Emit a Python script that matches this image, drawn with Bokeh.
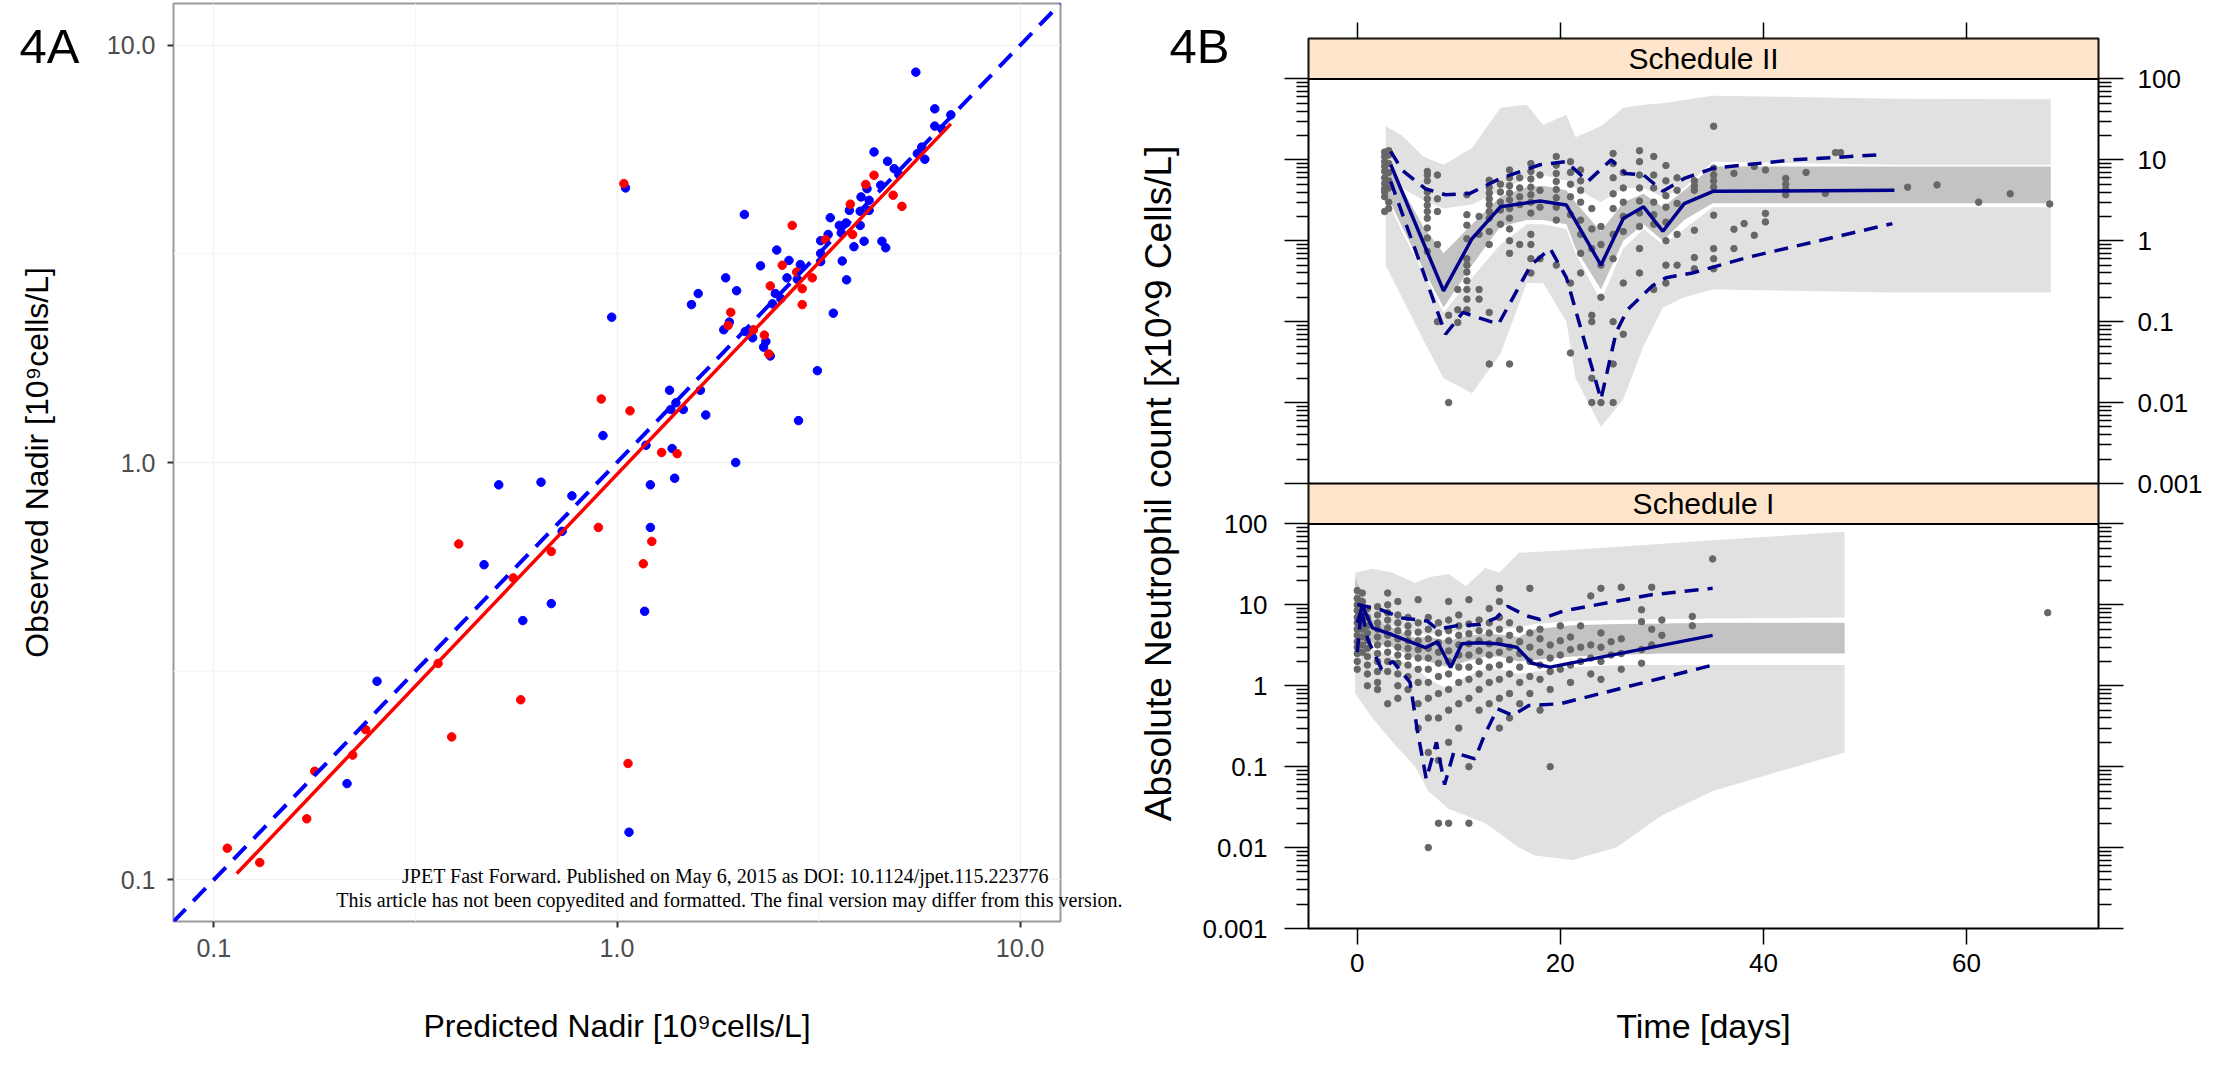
from bokeh.plotting import figure
from bokeh.models import (Range1d, LogAxis, LinearAxis, FixedTicker, LogScale, GridBox,
                          PrintfTickFormatter, CustomJSTickFormatter)
from bokeh.core.properties import value
from bokeh.embed import file_html
from bokeh.resources import INLINE

FONT = "Liberation Sans"

# ---------------- 4A : predicted vs observed nadir ----------------
blue_pred = [0.214, 0.254, 0.468, 0.584, 0.687, 1.171, 1.071, 0.509, 0.648, 0.773, 1.21, 1.39, 0.731, 1.21,
             1.05, 5.51, 6.14, 6.73, 6.14, 6.39, 4.34, 4.69, 4.87, 5.0, 5.56, 5.80, 5.7,
             4.51, 4.17, 4.03, 4.22, 3.77, 4.01, 4.22, 3.38, 3.56, 3.7, 4.01, 3.6, 3.34, 4.10, 3.87, 4.54, 4.64,
             3.2, 3.20, 3.20, 3.62, 3.71,
             2.49, 2.67, 2.85, 2.27, 2.07, 1.86, 1.98, 2.64, 2.8, 2.47, 2.55, 2.43, 1.59, 1.53, 1.84, 1.9, 2.08,
             2.17, 2.31, 2.34, 2.40, 3.44, 3.14, 2.82, 1.97, 0.97, 1.35, 1.61, 1.40, 1.46, 1.36, 1.66, 0.923,
             1.18, 1.37]
blue_obs = [0.170, 0.299, 0.569, 0.418, 0.459, 0.440, 0.130, 0.884, 0.897, 0.832, 0.884, 0.917, 0.684, 0.699,
            4.55, 8.62, 7.04, 6.81, 6.40, 6.30, 5.55, 5.27, 5.06, 4.9, 5.50, 5.33, 5.7,
            4.62, 4.53, 4.33, 4.25, 4.02, 4.00, 4.02, 3.86, 3.70, 3.75, 3.70, 3.55, 3.52, 3.39, 3.29, 3.39, 3.27,
            3.4, 3.17, 3.03, 3.04, 2.74,
            3.23, 3.05, 2.98, 2.96, 3.93, 2.77, 2.58, 2.77, 2.75, 2.54, 2.47, 2.40, 2.54, 2.39, 2.08, 2.17, 2.06,
            1.99, 1.89, 1.95, 1.80, 2.28, 1.66, 1.26, 1.0, 2.23, 1.49, 1.49, 1.39, 1.34, 1.34, 1.30, 1.16,
            1.10, 1.08]
red_pred = [0.108, 0.130, 0.170, 0.178, 0.221, 0.238, 0.360, 0.389, 0.553, 0.577, 0.687, 1.162, 1.065, 0.405,
            0.899, 1.22, 1.04, 2.72, 4.34, 4.14, 3.79, 4.84, 5.09, 3.84, 3.29, 2.57, 2.79, 3.05, 2.40, 2.88,
            2.88, 1.915, 1.886, 2.18, 2.32, 2.38, 0.914, 1.077, 1.29, 1.41]
red_obs = [0.119, 0.110, 0.140, 0.182, 0.199, 0.229, 0.330, 0.220, 0.529, 0.270, 0.612, 0.572, 0.190, 0.638,
           0.699, 0.647, 4.66, 3.70, 4.88, 4.64, 4.16, 4.37, 4.11, 3.52, 3.42, 2.97, 2.86, 2.77, 2.65, 2.61,
           2.39, 2.29, 2.13, 2.08, 2.02, 1.82, 1.42, 1.33, 1.057, 1.05]
identity_line = [0.05, 20.0]
fit_pred = [0.114, 6.73]
fit_obs = [0.1035, 6.48]
nadir_ticks = [0.1, 1, 10]
nadir_minor = [0.316, 3.16]
nadir_lim = (10 ** -1.1, 10 ** 1.1)

# ---------------- 4B : VPC, Schedule II (upper) ----------------
s2_band_day = [2.8, 4.4, 6.5, 8.5, 11.3, 14.1, 16.7, 18.3, 20.6, 21.5, 24.0, 26.2, 28.2, 30.1, 32.2, 35.0, 52.7, 68.3]
s2_up_hi = [26, 20, 11, 8.7, 14, 44, 48, 27, 36, 19, 26, 44, 48, 50, 55, 62, 57, 56]
s2_up_lo = [6.0, 4.5, 3.2, 2.5, 2.8, 4.2, 6.0, 6.5, 5.5, 4.5, 3.0, 4.5, 4.5, 3.5, 4.5, 9.5, 8.7, 8.7]
s2_md_hi = [9.0, 4.5, 1.5, 0.7, 1.6, 3.5, 4.6, 4.8, 4.2, 3.0, 1.3, 3.0, 3.8, 2.6, 4.2, 8.3, 8.3, 8.3]
s2_md_lo = [4.0, 1.5, 0.45, 0.15, 0.5, 1.5, 1.8, 1.8, 1.6, 0.8, 0.25, 1.0, 1.6, 1.0, 1.8, 2.9, 2.9, 2.9]
s2_lw_hi = [3.5, 1.3, 0.4, 0.13, 0.35, 0.9, 1.6, 1.6, 1.4, 0.7, 0.18, 0.8, 1.4, 0.9, 1.4, 2.6, 2.6, 2.6]
s2_lw_lo = [0.5, 0.2, 0.06, 0.02, 0.013, 0.04, 0.3, 0.3, 0.1, 0.02, 0.005, 0.011, 0.05, 0.15, 0.2, 0.25, 0.23, 0.23]

s2_med_day = [3.3, 8.5, 11.3, 14.1, 18.0, 20.6, 24.0, 26.2, 28.2, 30.1, 32.2, 35.1, 52.9]
s2_med_val = [8.7, 0.24, 1.06, 2.63, 3.1, 2.76, 0.50, 1.88, 2.63, 1.31, 2.88, 4.1, 4.2]
s2_hi_day = [3.3, 4.4, 6.7, 8.7, 11.1, 14.1, 18.0, 20.6, 22.7, 25.0, 26.4, 28.2, 30.1, 32.2, 35.1, 42.9, 51.7]
s2_hi_val = [12.7, 7.5, 4.4, 3.7, 3.85, 5.9, 8.7, 9.5, 5.4, 10.0, 6.8, 6.5, 4.1, 5.9, 7.9, 10.0, 11.6]
s2_lo_day = [3.3, 8.7, 10.4, 13.9, 17.1, 19.0, 20.6, 24.0, 25.5, 26.6, 29.1, 30.4, 33.0, 38.6, 52.7]
s2_lo_val = [5.4, 0.07, 0.13, 0.093, 0.5, 0.8, 0.35, 0.011, 0.074, 0.14, 0.28, 0.35, 0.40, 0.63, 1.63]

s2_obs_day = [2.7, 3.1, 6.9, 7.9, 9.0, 9.9, 10.8, 12.0, 13.0, 14.1, 15.0, 16.0, 17.1, 18.0, 19.6, 21.0, 22.0,
              23.1, 24.0, 25.2, 26.2, 27.8, 29.2, 30.4, 31.5, 33.2, 35.1, 37.1, 38.1, 39.1, 40.2, 42.2, 44.2,
              46.1, 47.1, 47.6, 54.2, 57.1, 61.2, 64.3, 68.2]
s2_obs_val = [
    [12.5, 11, 9.5, 8.3, 7.2, 6.0, 5.1, 4.4, 4.0, 3.5, 2.3],
    [13, 11.5, 9, 7, 5.5, 4.5, 3, 2.5],
    [7.2, 6.5, 5.5, 4.0, 3.3, 2.75, 2.3, 1.9, 1.44, 1.08, 0.74],
    [6.5, 3.3, 2.3, 0.9, 0.1],
    [0.12, 0.01],
    [0.14, 0.098, 0.25],
    [3.7, 2.1, 1.56, 1.06, 0.6, 0.5, 0.41, 0.32, 0.25, 0.19, 0.14],
    [2.0, 1.2, 0.25, 0.19],
    [5.6, 4.6, 3.9, 3.3, 2.8, 2.3, 1.9, 1.3, 0.9, 0.13, 0.03],
    [5.0, 4.0, 3.0, 2.4, 1.6],
    [7.5, 6.0, 4.8, 3.9, 3.2, 2.5, 1.9, 1.4, 1.0, 0.7, 0.03],
    [6.0, 4.5, 3.5, 2.8, 0.9],
    [9.0, 7.2, 5.8, 4.6, 3.7, 3.0, 2.2, 1.2, 0.9, 0.6, 0.4],
    [6.5, 4.2, 2.6, 0.6],
    [11.0, 8.6, 6.8, 5.4, 4.3, 3.4, 2.6, 1.8, 0.5],
    [9.5, 7.0, 5.0, 3.5, 2.1, 0.3, 0.041],
    [7.5, 5.5, 4.2, 3.0, 1.8, 1.2, 0.7, 0.4],
    [2.5, 1.4, 0.8, 0.12, 0.1, 0.02, 0.01],
    [1.5, 0.9, 0.5, 0.2, 0.01],
    [12.0, 9.0, 6.0, 3.8, 2.5, 1.2, 0.6, 0.1, 0.03, 0.01],
    [7.0, 4.5, 3.0, 2.0, 1.3, 0.3, 0.07],
    [13.0, 9.5, 6.5, 4.5, 3.1, 2.2, 1.5, 0.8, 0.4],
    [11.0, 6.5, 4.5, 3.0, 2.1, 1.6, 0.25],
    [8.5, 5.5, 3.6, 2.6, 1.7, 1.0, 0.5, 0.3],
    [6.0, 4.2, 2.9, 1.2, 0.5],
    [5.5, 4.8, 4.2, 1.35, 0.62, 0.45],
    [26, 7.9, 6.5, 5.5, 4.6, 2.07, 0.8, 0.6, 0.45],
    [6.8, 1.39, 0.8],
    [1.63],
    [8.3, 1.17],
    [7.5, 2.18, 1.71],
    [5.9, 5.0, 4.3, 3.7],
    [7.0],
    [3.85],
    [12.3],
    [12.3],
    [4.6],
    [4.9],
    [3.0],
    [3.8],
    [2.85],
]

# ---------------- 4B : VPC, Schedule I (lower) ----------------
s1_band_day = [-0.2, 1.5, 3.5, 5.7, 7.0, 9.0, 10.7, 12.6, 14.0, 15.9, 17.5, 21.2, 25.5, 30.0, 35.0, 48.0]
s1_up_hi = [25, 28, 25, 18.6, 22, 24, 17, 28.5, 25, 44, 45, 48, 52, 57, 63, 80]
s1_up_lo = [6.5, 6.0, 5.5, 4.6, 4.3, 4.8, 4.5, 4.9, 5.0, 5.3, 5.8, 6.3, 6.5, 6.7, 6.8, 7.0]
s1_md_hi = [22, 6.5, 5.2, 3.9, 4.0, 3.6, 4.1, 4.4, 4.3, 4.0, 5.0, 5.6, 5.8, 5.9, 6.0, 6.0]
s1_md_lo = [4.0, 3.4, 3.0, 2.2, 2.0, 1.7, 2.0, 2.3, 2.3, 2.0, 2.1, 2.3, 2.4, 2.5, 2.5, 2.5]
s1_lw_hi = [3.6, 2.8, 2.3, 1.7, 1.2, 0.9, 1.3, 1.6, 1.6, 1.4, 1.5, 1.7, 1.8, 1.8, 1.8, 1.8]
s1_lw_lo = [0.8, 0.4, 0.2, 0.1, 0.05, 0.03, 0.025, 0.02, 0.015, 0.01, 0.008, 0.007, 0.01, 0.025, 0.05, 0.15]

s1_med_day = [0.0, 0.5, 1.5, 3.4, 6.7, 7.9, 9.2, 10.3, 12.0, 13.8, 15.7, 17.2, 19.0, 35.0]
s1_med_val = [6.0, 9.6, 5.2, 4.3, 2.96, 3.5, 1.68, 3.3, 3.4, 3.3, 3.0, 1.9, 1.7, 4.2]
s1_hi_day = [0.0, 2.3, 4.4, 6.9, 7.9, 9.7, 12.1, 13.7, 14.8, 16.7, 18.0, 20.3, 25.5, 29.1, 35.0]
s1_hi_val = [10.1, 8.7, 6.9, 6.3, 5.0, 5.5, 5.7, 6.9, 9.6, 7.3, 6.6, 8.4, 11.1, 13.4, 16.0]
s1_lo_day = [0.0, 0.4, 1.05, 2.4, 3.5, 5.2, 5.9, 6.8, 7.8, 8.6, 9.5, 11.6, 12.5, 13.8, 15.3, 16.9, 20.0, 35.0]
s1_lo_val = [2.6, 8.7, 3.7, 1.6, 2.0, 1.1, 0.29, 0.07, 0.2, 0.06, 0.15, 0.125, 0.24, 0.52, 0.43, 0.57, 0.6, 1.8]

s1_obs_day = [0.0, 0.5, 1.0, 2.0, 3.0, 4.0, 5.0, 6.0, 7.0, 8.0, 9.0, 10.0, 11.0, 12.0, 13.0, 14.0, 15.0, 16.0,
              17.0, 18.0, 19.0, 20.0, 21.0, 22.0, 23.0, 24.0, 25.0, 26.0, 28.0, 29.0, 30.0, 33.0, 35.0, 68.0]
s1_obs_val = [
    [15, 12, 10, 8.5, 7, 6, 5, 4.2, 3.5, 3, 2.5, 2, 1.6],
    [14, 11, 9, 7.5, 6, 5, 4, 3.2, 2.6],
    [9, 7, 5.5, 4.5, 3.6, 2.9, 2.3, 1.8, 1.4, 1.0],
    [9.5, 7.5, 6, 5, 4, 3.2, 2.5, 2, 1.5, 1.1, 0.9],
    [14, 10, 8, 6.5, 5.2, 4.2, 3.3, 2.6, 2.0, 1.5, 0.6],
    [11, 7.5, 6, 4.8, 3.8, 3, 2.4, 1.9, 1.4, 1.0, 0.7],
    [7, 5.5, 4.5, 3.6, 2.9, 2.3, 1.8, 1.3, 0.9],
    [11.6, 6, 4.6, 3.6, 2.8, 2.2, 1.6, 1.1, 0.6, 0.3],
    [7, 5, 3.8, 2.9, 2.2, 1.6, 1.1, 0.7, 0.4, 0.15, 0.01],
    [6, 4.5, 3.4, 2.6, 1.9, 1.3, 0.8, 0.4, 0.12, 0.02],
    [11, 6.5, 4.8, 3.6, 2.7, 2.0, 1.4, 0.9, 0.5, 0.2, 0.02],
    [7.5, 5.5, 4.2, 3.2, 2.4, 1.7, 1.1, 0.6, 0.3],
    [11.6, 5.8, 4.4, 3.3, 2.4, 1.7, 1.2, 0.7, 0.1, 0.02],
    [6.5, 4.8, 3.6, 2.7, 2.0, 1.4, 0.9, 0.5],
    [9, 6, 4.5, 3.3, 2.4, 1.7, 1.1, 0.6],
    [16, 11, 7, 5, 3.6, 2.6, 1.8, 1.2, 0.7, 0.3],
    [6, 4.2, 3.0, 2.1, 1.4, 0.8, 0.4],
    [5, 3.5, 2.5, 1.7, 1.1, 0.6],
    [16, 4.5, 3.0, 2.0, 1.3, 0.8],
    [5.0, 3.8, 2.6, 1.8, 1.2, 0.5],
    [3.2, 2.2, 1.5, 0.9, 0.1],
    [5.5, 3.6, 2.4, 1.6],
    [4.0, 2.8, 1.8, 1.1],
    [5.5, 3.0, 2.0],
    [12.9, 3.2, 2.2, 1.4],
    [16, 4.5, 3.0, 2.0, 1.2],
    [3.5, 2.4],
    [16.5, 3.8, 2.5, 1.6],
    [8.7, 6.2, 2.8, 1.9],
    [16.5, 5, 3.2],
    [6.5, 4.2],
    [7.2, 5.5],
    [37],
    [8],
]

anc_major = [0.001, 0.01, 0.1, 1, 10, 100]
anc_minor = [m * 10.0 ** k for k in range(-3, 2) for m in range(2, 10)]
day_ticks = [0, 20, 40, 60]
strip_names = ["Schedule II", "Schedule I"]
day_lim = (-4.8, 73.0)

# free texts laid over the page (panel tags and the journal stamp)
overlay_texts = ["4A", "4B",
                 "JPET Fast Forward. Published on May 6, 2015 as DOI: 10.1124/jpet.115.223776",
                 "This article has not been copyedited and formatted. The final version may differ from this version."]
overlay_x = [49, 1199, 725, 729]
overlay_y = [45, 45, 875, 899]
overlay_font = ["Liberation Sans", "Liberation Sans", "Liberation Serif", "Liberation Serif"]
overlay_size = ["49px", "49px", "20px", "20px"]
overlay_base = ["middle", "middle", "alphabetic", "alphabetic"]

LIGHT = "#E1E1E1"
DARK = "#C3C3C3"
NAVY = "#00008B"
DOT = "#676767"
PEACH = "#FFE5CC"
W_A, W_B, H = 1132, 1073, 1060


def flat(days, cols):
    xs, ys = [], []
    for d, vals in zip(days, cols):
        xs.extend([d] * len(vals))
        ys.extend(vals)
    return xs, ys


# ================= figure 4A =================
pa = figure(width=W_A, height=H, x_axis_type="log", y_axis_type="log",
            x_range=Range1d(*nadir_lim), y_range=Range1d(*nadir_lim),
            output_backend="svg", toolbar_location=None, frame_align=False,
            min_border_left=173, min_border_right=72, min_border_top=3, min_border_bottom=139)
pa.outline_line_color = "#9A9A9A"
pa.outline_line_width = 2
tick_a = FixedTicker(ticks=nadir_ticks, minor_ticks=nadir_minor)
for ax in (pa.xaxis[0], pa.yaxis[0]):
    ax.ticker = tick_a
    ax.formatter = PrintfTickFormatter(format="%.1f")
    ax.axis_line_color = None
    ax.major_tick_in = 0
    ax.major_tick_out = 6
    ax.major_tick_line_color = "#333333"
    ax.major_tick_line_width = 2
    ax.minor_tick_in = 0
    ax.minor_tick_out = 0
    ax.major_label_text_font = FONT
    ax.major_label_text_font_size = "25px"
    ax.major_label_text_color = "#4D4D4D"
    ax.axis_label_text_font = FONT
    ax.axis_label_text_font_size = "32px"
    ax.axis_label_text_font_style = "normal"
    ax.axis_label_text_color = "black"
pa.xaxis[0].major_label_standoff = 11
pa.xaxis[0].axis_label_standoff = 48
pa.yaxis[0].major_label_standoff = 12
pa.yaxis[0].axis_label_standoff = 49
pa.xaxis[0].axis_label = "Predicted Nadir [10\u2079cells/L]"
pa.yaxis[0].axis_label = "Observed Nadir [10\u2079cells/L]"
for g in (pa.xgrid[0], pa.ygrid[0]):
    g.ticker = tick_a
    g.grid_line_color = "#F2F2F2"
    g.grid_line_width = 1.5
    g.minor_grid_line_color = "#F6F6F6"
    g.minor_grid_line_width = 1.5

pa.scatter(blue_pred, blue_obs, size=8.5, color="#0000FF")
pa.scatter(red_pred, red_obs, size=8.5, color="#FF0000")
pa.line(identity_line, identity_line, line_color="#0000FF", line_width=4, line_dash="18 11")
pa.line(fit_pred, fit_obs, line_color="#FF0000", line_width=3.5)

# ================= figure 4B =================
shift = 10 ** 5.5
pb = figure(width=W_B, height=H, y_axis_type="log",
            x_range=Range1d(*day_lim), y_range=Range1d(1e-3, 1e8),
            output_backend="svg", toolbar_location=None, frame_align=False,
            min_border_left=176, min_border_right=106, min_border_top=38, min_border_bottom=132)
pb.extra_y_ranges = {"ii": Range1d(10 ** -8.5, 10 ** 2.5)}
pb.extra_y_scales = {"ii": LogScale()}
pb.outline_line_color = "black"
pb.outline_line_width = 2
pb.xgrid.visible = False
pb.ygrid.visible = False


def style_b(ax, tick_out, minor_out):
    ax.axis_line_color = None
    ax.major_tick_in = 0
    ax.minor_tick_in = 0
    ax.major_tick_out = tick_out
    ax.minor_tick_out = minor_out
    ax.major_tick_line_color = "black"
    ax.major_tick_line_width = 1.5
    ax.minor_tick_line_color = "black"
    ax.minor_tick_line_width = 1.5
    ax.major_label_text_font = FONT
    ax.major_label_text_font_size = "26px"
    ax.major_label_text_color = "black"
    ax.axis_label_text_font = FONT
    ax.axis_label_text_font_size = "34px"
    ax.axis_label_text_font_style = "normal"
    ax.axis_label_text_color = "black"


left = pb.left[0]
left.ticker = FixedTicker(ticks=anc_major + [v * shift for v in anc_major],
                          minor_ticks=anc_minor + [v * shift for v in anc_minor])
left.formatter = CustomJSTickFormatter(code="return tick > 101 ? '' : String(tick);")
style_b(left, 24, 12)
left.major_label_standoff = 17
left.axis_label = "Absolute Neutrophil count [x10^9 Cells/L]"
left.axis_label_text_font_size = "37px"
left.axis_label_standoff = 20

right = LogAxis(y_range_name="ii")
right.ticker = FixedTicker(ticks=anc_major + [v / shift for v in anc_major],
                           minor_ticks=anc_minor + [v / shift for v in anc_minor])
right.formatter = CustomJSTickFormatter(code="return tick < 0.00099 ? '' : String(tick);")
style_b(right, 25, 13)
right.major_label_standoff = 14
pb.add_layout(right, "right")

bottom = pb.below[0]
bottom.ticker = FixedTicker(ticks=day_ticks, minor_ticks=[])
style_b(bottom, 16, 0)
bottom.major_label_standoff = 9
bottom.axis_label = "Time [days]"
bottom.axis_label_standoff = 32

top = LinearAxis(ticker=FixedTicker(ticks=day_ticks, minor_ticks=[]),
                 formatter=CustomJSTickFormatter(code="return '';"))
style_b(top, 16, 0)
top.major_label_text_font_size = "8px"
top.major_label_standoff = 0
pb.add_layout(top, "above")

panels = [
    ("ii", s2_band_day, s2_up_lo, s2_up_hi, s2_md_lo, s2_md_hi, s2_lw_lo, s2_lw_hi,
     s2_med_day, s2_med_val, s2_hi_day, s2_hi_val, s2_lo_day, s2_lo_val, s2_obs_day, s2_obs_val),
    ("default", s1_band_day, s1_up_lo, s1_up_hi, s1_md_lo, s1_md_hi, s1_lw_lo, s1_lw_hi,
     s1_med_day, s1_med_val, s1_hi_day, s1_hi_val, s1_lo_day, s1_lo_val, s1_obs_day, s1_obs_val),
]
for name, (rng, bd, ul, uh, ml, mh, ll, lh, md, mv, hd, hv, ld, lv, od, ov) in zip(strip_names, panels):
    pb.varea(x=bd, y1=ul, y2=uh, fill_color=LIGHT, y_range_name=rng)
    pb.varea(x=bd, y1=ll, y2=lh, fill_color=LIGHT, y_range_name=rng)
    pb.varea(x=bd, y1=ml, y2=mh, fill_color=DARK, y_range_name=rng)
    ox, oy = flat(od, ov)
    pb.scatter(ox, oy, size=6.5, color=DOT, y_range_name=rng)
    pb.line(md, mv, line_color=NAVY, line_width=3.5, y_range_name=rng)
    pb.line(hd, hv, line_color=NAVY, line_width=3.5, line_dash="14 9", y_range_name=rng)
    pb.line(ld, lv, line_color=NAVY, line_width=3.5, line_dash="14 9", y_range_name=rng)
    # strip above each panel: from the panel top (100) to half a decade higher
    pb.quad(left=[day_lim[0]], right=[day_lim[1]], bottom=[anc_major[-1]], top=[anc_major[-1] * 10 ** 0.5],
            fill_color=PEACH, line_color="black", line_width=2, y_range_name=rng)
    pb.text(x=[(day_lim[0] + day_lim[1]) / 2], y=[anc_major[-1] * 10 ** 0.25], text=[name],
            text_font=value(FONT), text_font_size="30px", text_align="center",
            text_baseline="middle", text_color="black", y_range_name=rng)

# ================= transparent overlay for free text =================
ov_fig = figure(width=W_A + W_B, height=H, x_range=Range1d(0, W_A + W_B), y_range=Range1d(H, 0),
                output_backend="svg", toolbar_location=None, min_border=0,
                x_axis_location=None, y_axis_location=None, frame_align=False)
ov_fig.grid.visible = False
ov_fig.outline_line_color = None
ov_fig.background_fill_color = None
ov_fig.border_fill_color = None
for t, x, y, f, s, b in zip(overlay_texts, overlay_x, overlay_y, overlay_font, overlay_size, overlay_base):
    ov_fig.text(x=[x], y=[y], text=[t], text_font=value(f), text_font_size=s, text_align="center",
                text_baseline=b, text_color="black")

layout = GridBox(children=[(pa, 0, 0), (pb, 0, 1), (ov_fig, 0, 0, 1, 2)], spacing=0)
open("out.html", "w").write(file_html(layout, INLINE))
